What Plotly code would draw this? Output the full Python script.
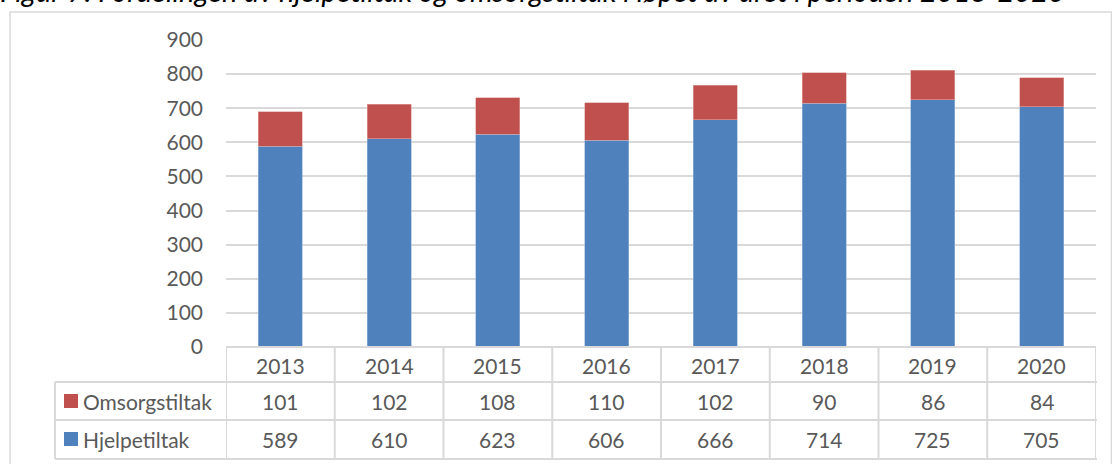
import plotly.graph_objects as go

years = ["2013", "2014", "2015", "2016", "2017", "2018", "2019", "2020"]
omsorgstiltak = [101, 102, 108, 110, 102, 90, 86, 84]
hjelpetiltak = [589, 610, 623, 606, 666, 714, 725, 705]
series_names = ["Omsorgstiltak", "Hjelpetiltak"]
title_text = "Figur 7: Fordelingen av hjelpetiltak og omsorgstiltak i løpet av året i perioden 2013-2020"

BLUE = "#4F81BD"
RED = "#C0504D"
GRID = "#D9D9D9"
TXT = "#595959"
FONT = "Lato"
FS = 21

W, H = 1112, 464
L, R, T, B = 226, 1096, 40, 347


def px(xp):
    return (xp - L) / (R - L)


def py(yp):
    return (B - yp) / (B - T)


fig = go.Figure()
fig.add_trace(go.Bar(x=years, y=hjelpetiltak, name=series_names[1],
                     marker=dict(color=BLUE, line=dict(color="#9DB7DA", width=0.6)), width=0.405))
fig.add_trace(go.Bar(x=years, y=omsorgstiltak, name=series_names[0],
                     marker=dict(color=RED, line=dict(color="#E0A3A1", width=0.6)), width=0.405))

shapes = []
annotations = []

# outer border
shapes.append(dict(type="rect", xref="paper", yref="paper", x0=px(10), x1=px(1111.5), y0=py(12), y1=py(480),
                   line=dict(color=GRID, width=1.5), layer="below"))

n = len(years)
row_y = [347, 382, 420, 459]
shapes.append(dict(type="line", xref="x", yref="paper", x0=-0.5, x1=n - 0.5, y0=py(row_y[0]), y1=py(row_y[0]),
                   line=dict(color=GRID, width=2)))
for ry in row_y[1:]:
    shapes.append(dict(type="line", xref="paper", yref="paper", x0=px(55), x1=px(1097), y0=py(ry), y1=py(ry),
                       line=dict(color=GRID, width=2)))
shapes.append(dict(type="line", xref="paper", yref="paper", x0=px(55), x1=px(55), y0=py(382), y1=py(459),
                   line=dict(color=GRID, width=2)))
for i in range(n + 1):
    shapes.append(dict(type="line", xref="x", yref="paper", x0=i - 0.5, x1=i - 0.5, y0=py(347), y1=py(459),
                       line=dict(color=GRID, width=2)))

# header years (category index positions)
for i, yr in enumerate(years):
    annotations.append(dict(x=i, xref="x", y=py(365), yref="paper", text=yr, showarrow=False,
                            font=dict(family=FONT, size=FS, color=TXT), xanchor="center", yanchor="middle"))
for vals, ycen in ((omsorgstiltak, 401), (hjelpetiltak, 439)):
    for i, v in enumerate(vals):
        annotations.append(dict(x=i, xref="x", y=py(ycen), yref="paper", text=str(v), showarrow=False,
                                font=dict(family=FONT, size=FS, color=TXT), xanchor="center", yanchor="middle"))
for name, col, ycen in ((series_names[0], RED, 401), (series_names[1], BLUE, 439)):
    shapes.append(dict(type="rect", xref="paper", yref="paper", x0=px(64), x1=px(78), y0=py(ycen - 7),
                       y1=py(ycen + 7), fillcolor=col, line=dict(width=0)))
    annotations.append(dict(x=px(81), xref="paper", y=py(ycen), yref="paper", text=name, showarrow=False,
                            font=dict(family=FONT, size=FS, color=TXT), xanchor="left", yanchor="middle"))

# title (top clipped as in reference)
annotations.append(dict(x=px(-2), xref="paper", y=py(10), yref="paper", text="<i>" + title_text + "</i>",
                        showarrow=False, font=dict(family=FONT, size=29, color="#000000"),
                        xanchor="left", yanchor="bottom"))

fig.update_layout(
    width=W, height=H,
    margin=dict(l=L, r=W - R, t=T, b=H - B, pad=0),
    barmode="stack",
    showlegend=False,
    plot_bgcolor="white", paper_bgcolor="white",
    shapes=shapes, annotations=annotations,
    xaxis=dict(type="category", range=[-0.5, n - 0.5], showticklabels=False, showgrid=False, zeroline=False,
               showline=False, ticks=""),
    yaxis=dict(range=[0, 900], dtick=100, tick0=0, showgrid=True, gridcolor=GRID, gridwidth=2, zeroline=False,
               showline=False, ticks="", ticklabelstandoff=22,
               tickfont=dict(family=FONT, size=FS, color=TXT)),
    font=dict(family=FONT, color=TXT),
)

fig.write_html("out.html", config={"displayModeBar": False},
               post_script="document.body.style.margin='0';document.body.style.overflow='hidden';")
